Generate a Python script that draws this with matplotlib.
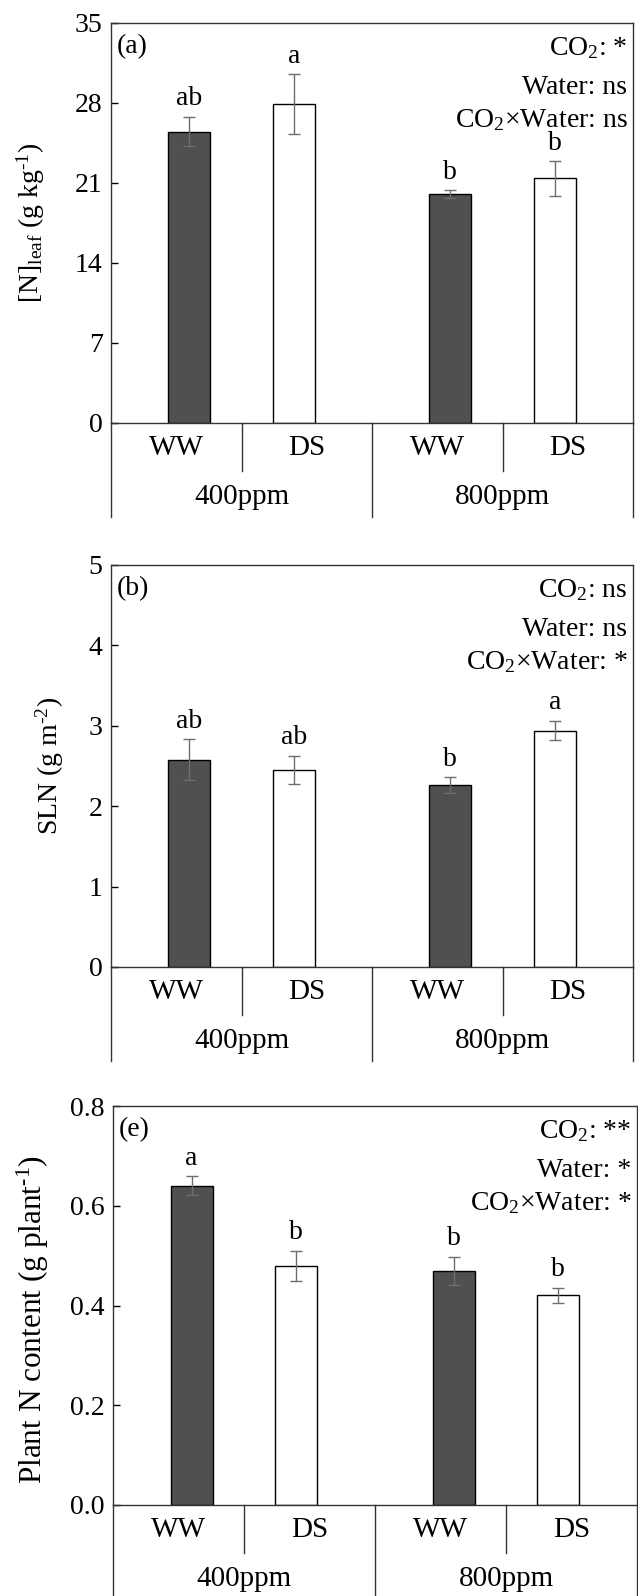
import matplotlib
matplotlib.use("Agg")
import matplotlib.pyplot as plt

plt.rcParams['font.family'] = ['Liberation Serif', 'DejaVu Serif']
plt.rcParams['mathtext.fontset'] = 'custom'
plt.rcParams['mathtext.rm'] = 'Liberation Serif'
plt.rcParams['mathtext.it'] = 'Liberation Serif:italic'
plt.rcParams['mathtext.bf'] = 'Liberation Serif:bold'

# data
treatments = ['WW', 'DS', 'WW', 'DS']
co2_levels = ['400ppm', '800ppm']

n_leaf = [25.5, 27.9, 20.0, 21.4]
n_leaf_err = [1.3, 2.6, 0.35, 1.5]
n_leaf_letters = ['ab', 'a', 'b', 'b']

sln = [2.58, 2.45, 2.26, 2.94]
sln_err = [0.25, 0.18, 0.10, 0.12]
sln_letters = ['ab', 'ab', 'b', 'a']

plant_n = [0.640, 0.480, 0.470, 0.421]
plant_n_err = [0.019, 0.030, 0.028, 0.015]
plant_n_letters = ['a', 'b', 'b', 'b']

stats_a = ['CO$_2$: *', 'Water: ns', 'CO$_2$×Water: ns']
stats_b = ['CO$_2$: ns', 'Water: ns', 'CO$_2$×Water: *']
stats_e = ['CO$_2$: **', 'Water: *', 'CO$_2$×Water: *']

bar_x = [0.6, 1.4, 2.6, 3.4]
bar_colors = ['#505050', 'white', '#505050', 'white']

W, H = 638, 1596
fig = plt.figure(figsize=(W / 100, H / 100), dpi=100)


def panel(rect_px, values, errs, letters, ylim, yticks, ylabel, tag, stats,
          label_xy, label_size=20, fmt='{:g}'):
    left, top, right, zero = rect_px
    ax = fig.add_axes([left / W, 1 - zero / H, (right - left) / W, (zero - top) / H])
    ax_h = zero - top
    ax.bar(bar_x, values, width=0.32, color=bar_colors, edgecolor='black',
           linewidth=1.0, zorder=2)
    ax.errorbar(bar_x, values, yerr=errs, fmt='none', ecolor='#6e6e6e',
                elinewidth=1.0, capsize=4, capthick=1.0, zorder=3)
    for x, v, e, t in zip(bar_x, values, errs, letters):
        ax.annotate(t, xy=(x, v + e), xytext=(0, 4), textcoords='offset points',
                    ha='center', va='bottom', fontsize=20)
    ax.set_xlim(0, 4)
    ax.set_ylim(*ylim)
    ax.set_yticks(yticks)
    ax.set_yticklabels([fmt.format(t) for t in yticks], fontsize=20)
    ax.tick_params(axis='y', direction='in', length=5, pad=6, width=1.0)
    ax.set_xticks([])
    for s in ax.spines.values():
        s.set_linewidth(1.0)
        s.set_color('#333333')
    ax.set_ylabel(ylabel, fontsize=label_size, va='center')
    ax.yaxis.set_label_coords(*label_xy)

    # two-level category axis below
    tr = ax.get_xaxis_transform()
    small = -48 / ax_h
    big = -94 / ax_h
    for x in [1, 3]:
        ax.plot([x, x], [0, small], transform=tr, color='#333333', lw=1.0, clip_on=False)
    for x in [0, 2, 4]:
        ax.plot([x, x], [0, big], transform=tr, color='#333333', lw=1.0, clip_on=False)
    for i, t in enumerate(treatments):
        ax.text(i + 0.5, -25 / ax_h, t, transform=tr, ha='center', va='center', fontsize=21)
    for i, g in enumerate(co2_levels):
        ax.text(2 * i + 1, -74 / ax_h, g, transform=tr, ha='center', va='center', fontsize=21)

    ax.annotate(tag, xy=(0, 1), xycoords='axes fraction', xytext=(4, -22),
                textcoords='offset points', ha='left', va='baseline', fontsize=20)
    for off, s in zip([23, 51, 75], stats):
        ax.annotate(s, xy=(1, 1), xycoords='axes fraction', xytext=(-4, -off),
                    textcoords='offset points', ha='right', va='baseline', fontsize=20)
    return ax


panel((111, 23, 633, 423), n_leaf, n_leaf_err, n_leaf_letters, (0, 35),
      [0, 7, 14, 21, 28, 35], r'[N]$_{\mathrm{leaf}}$ (g kg$^{\text{-1}}$)', '(a)',
      stats_a, (-0.153, 0.5))
panel((111, 565, 633, 967), sln, sln_err, sln_letters, (0, 5),
      [0, 1, 2, 3, 4, 5], r'SLN (g m$^{\text{-2}}$)', '(b)', stats_b, (-0.117, 0.5))
panel((113, 1106, 637, 1505), plant_n, plant_n_err, plant_n_letters, (0, 0.8),
      [0.0, 0.2, 0.4, 0.6, 0.8], r'Plant N content (g plant$^{\text{-1}}$)', '(e)',
      stats_e, (-0.153, 0.465), label_size=22.5, fmt='{:.1f}')

fig.savefig('out.png', dpi=100)
